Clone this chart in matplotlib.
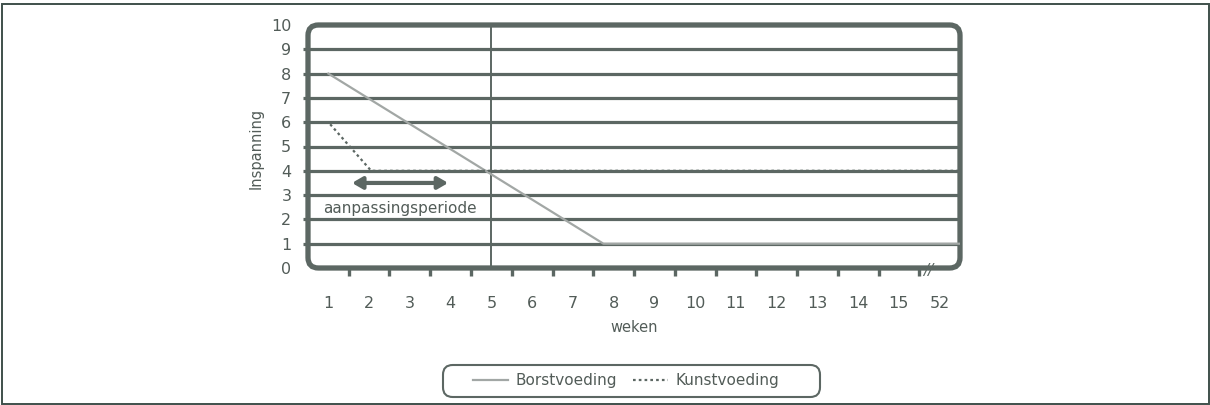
import matplotlib.pyplot as plt
from matplotlib.patches import FancyBboxPatch, Rectangle

# data
week_labels = ['1', '2', '3', '4', '5', '6', '7', '8', '9', '10',
               '11', '12', '13', '14', '15', '52']
borst_x = [1, 7.75, 16.5]
borst_y = [8, 1, 1]
kunst_x = [0.5, 1, 2.05, 16.5]
kunst_y = [6, 6, 4, 4]
y_levels = list(range(0, 11))

dark = '#5c6763'
light = '#a2a7a5'
txt = '#525c58'

plt.rcParams['font.family'] = ['DejaVu Sans']

fig = plt.figure(figsize=(12.1, 4.05), dpi=100)
W, H = 1210, 405
ax = fig.add_axes([308 / W, 1 - 268 / H, (960 - 308) / W, (268 - 25) / H])
ax.set_xlim(0.5, 16.5)
ax.set_ylim(0, 10)
for s in ax.spines.values():
    s.set_visible(False)

# horizontal grid, with small stubs left of the frame
ax.hlines(y_levels[1:-1], 0.5 - 5 / 40.75, 16.5, color=dark, lw=2.3,
          zorder=1, clip_on=False)
# vertical line at week 5
ax.axvline(5, color=dark, lw=1.4, zorder=1)

# rounded frame
aw, ah = 652, 243
frame = FancyBboxPatch((0, 0), 1, 1, boxstyle='round,pad=0,rounding_size=0.016',
                       mutation_aspect=aw / ah, transform=ax.transAxes,
                       fill=False, ec=dark, lw=3.8, zorder=3, clip_on=False)
ax.add_patch(frame)

# series
l1, = ax.plot(borst_x, borst_y, color=light, lw=1.6, zorder=4, label='Borstvoeding')
l2, = ax.plot(kunst_x, kunst_y, color=dark, lw=1.6, ls=(0, (1.2, 1.4)), zorder=4,
              label='Kunstvoeding')

# ticks
ax.set_yticks(y_levels)
ax.set_yticklabels([str(v) for v in y_levels])
ax.tick_params(axis='y', length=0, pad=12, labelsize=11.5, labelcolor=txt)
ax.set_xticks(range(1, 17))
ax.set_xticklabels(week_labels)
ax.set_xticks([i + 0.5 for i in range(1, 16)], minor=True)
ax.tick_params(axis='x', which='major', length=0, pad=20, labelsize=11.5, labelcolor=txt)
ax.tick_params(axis='x', which='minor', length=6, width=2.4, color=dark, direction='out')

ax.set_ylabel('Inspanning', fontsize=10.5, color=txt)
ax.yaxis.set_label_coords(-(308 - 264) / aw, 0.49)
ax.set_xlabel('weken', fontsize=10.5, color=txt)
ax.xaxis.set_label_coords(0.5, -(320 - 268) / ah)

# adaptation period
ax.annotate('', xy=(3.94, 3.5), xytext=(1.58, 3.5),
            arrowprops=dict(arrowstyle='<|-|>,head_length=0.6,head_width=0.35',
                            lw=3, color=dark, shrinkA=0, shrinkB=0), zorder=5)
ax.text(2.75, 2.45, 'aanpassingsperiode', ha='center', va='center',
        fontsize=11, color=txt, zorder=5)

# axis break mark
fig.text(928 / W, 1 - 271 / H, '//', ha='center', va='center', fontsize=11,
         color=dark, style='italic')

# legend (box drawn separately to match the rounded frame)
leg = fig.legend(handles=[l1, l2], loc='center', ncol=2,
                 bbox_to_anchor=(626 / W, 1 - 381 / H), fontsize=11,
                 frameon=False, handlelength=2.3,
                 columnspacing=1.0, handletextpad=0.5)
for t in leg.get_texts():
    t.set_color(txt)
fig.patches.append(FancyBboxPatch((443 / W, 1 - 397 / H), 377 / W, 32 / H,
                                  boxstyle='round,pad=0,rounding_size=0.008',
                                  mutation_aspect=W / H, transform=fig.transFigure,
                                  fill=False, ec=dark, lw=1.5))

# outer border
fig.patches.append(Rectangle((2 / W, 1.5 / H), 1 - 3.5 / W, 1 - 5.5 / H,
                             transform=fig.transFigure, fill=False,
                             ec='#3f504b', lw=1.4))

fig.savefig('out.png', dpi=100)
